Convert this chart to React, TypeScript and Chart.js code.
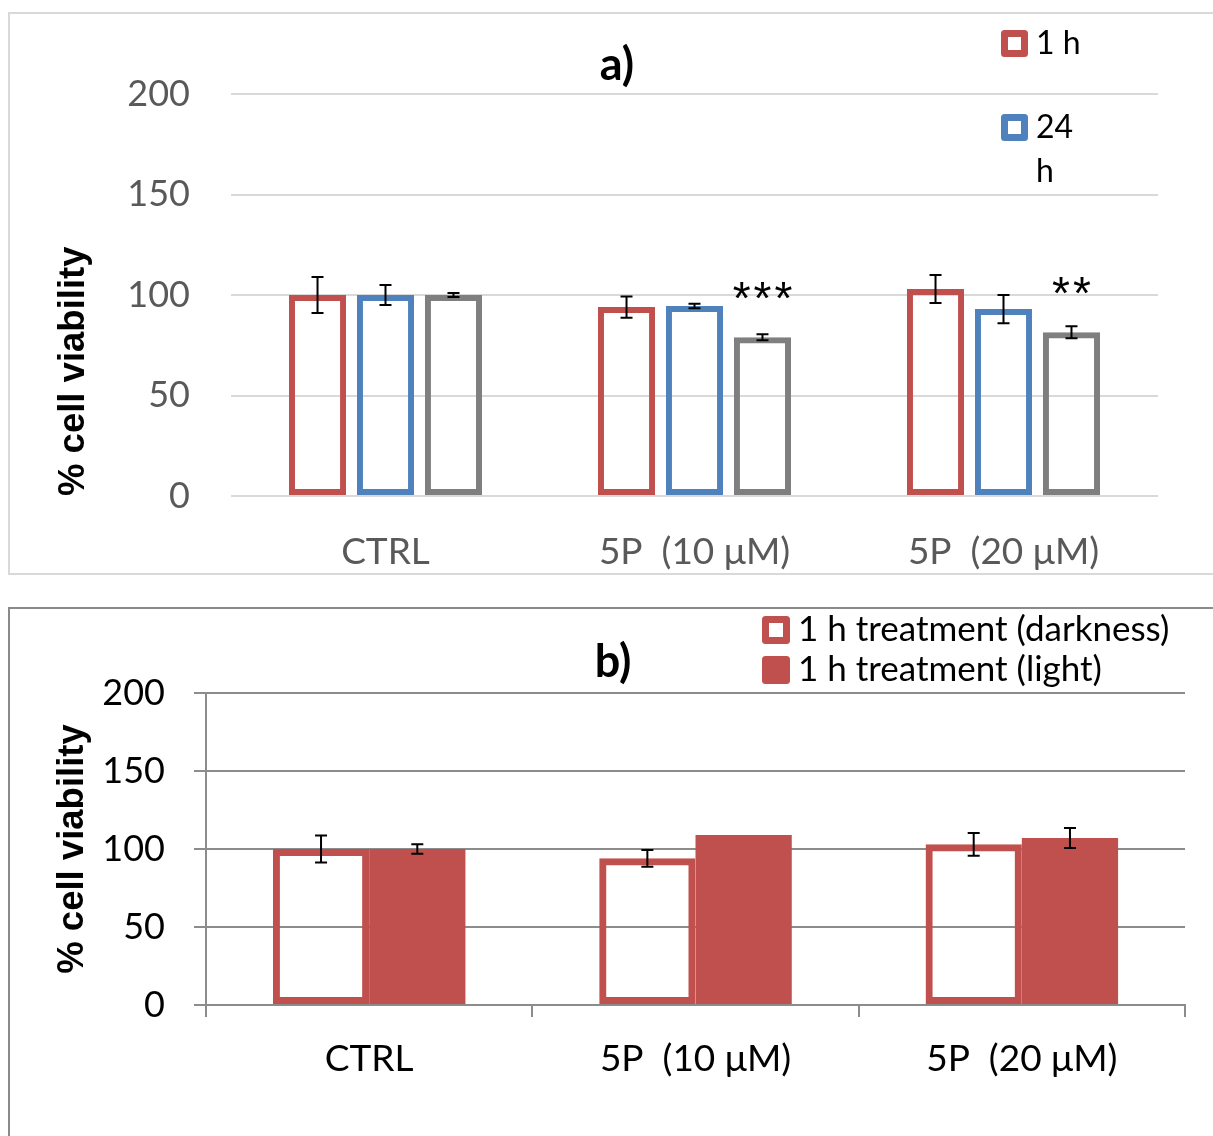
import React, { useEffect, useRef } from 'react';
import { Chart, registerables } from 'chart.js';

Chart.register(...registerables);

// ---------- data ----------
const categories = ['CTRL', '5P  (10 μM)', '5P  (20 μM)'];
const yTicks = [0, 50, 100, 150, 200];

// panel a
const legendA = ['1 h', '24 h', ''];
const valuesA1h = [100, 94, 103];
const errorsA1h = [9, 5.3, 7];
const valuesA24h = [100, 94.5, 93];
const errorsA24h = [5, 1.1, 7];
const valuesA3 = [100, 79, 81.5];
const errorsA3 = [1, 1.5, 3];
const signifA3 = ['', '***', '**'];

// panel b
const legendB = ['1 h treatment (darkness)', '1 h treatment (light)'];
const valuesBDark = [100, 94, 103];
const errorsBDark = [8.7, 5.4, 7.3];
const valuesBLight = [100, 109, 107];
const errorsBLight = [3, 0, 6.4];

const RED = '#C0504D';
const BLUE = '#4F81BD';
const GRAY = '#7F7F7F';
const NONE = 'rgba(0,0,0,0)';
const FONT = 'Lato, "Open Sans", sans-serif';
const BOLDFONT = '"Liberation Sans", Arial, sans-serif';

// ---------- plugins ----------
const errorBarPlugin = {
  id: 'errorBars',
  afterDatasetsDraw(chart: any) {
    const ctx = chart.ctx;
    const y = chart.scales.y;
    chart.data.datasets.forEach((ds: any, i: number) => {
      const errs = ds.errors;
      if (!errs) return;
      const meta = chart.getDatasetMeta(i);
      meta.data.forEach((el: any, j: number) => {
        const e = errs[j];
        if (!e) return;
        const v = ds.data[j];
        const x = el.x;
        const y1 = y.getPixelForValue(v + e);
        const y2 = y.getPixelForValue(v - e);
        ctx.save();
        ctx.strokeStyle = '#000';
        ctx.lineWidth = 2;
        ctx.beginPath();
        ctx.moveTo(x, y1);
        ctx.lineTo(x, y2);
        ctx.moveTo(x - 6, y1);
        ctx.lineTo(x + 6, y1);
        ctx.moveTo(x - 6, y2);
        ctx.lineTo(x + 6, y2);
        ctx.stroke();
        ctx.restore();
      });
    });
  },
};

const signifPlugin = {
  id: 'signif',
  afterDatasetsDraw(chart: any) {
    const ctx = chart.ctx;
    const y = chart.scales.y;
    chart.data.datasets.forEach((ds: any, i: number) => {
      const marks = ds.signif;
      if (!marks) return;
      const meta = chart.getDatasetMeta(i);
      meta.data.forEach((el: any, j: number) => {
        const m = marks[j];
        if (!m) return;
        ctx.save();
        ctx.fillStyle = '#000';
        ctx.font = `46px ${BOLDFONT}`;
        (ctx as any).letterSpacing = '3px';
        ctx.textAlign = 'center';
        ctx.textBaseline = 'alphabetic';
        ctx.fillText(m, el.x + 1.5, y.getPixelForValue(ds.data[j]) - 23);
        ctx.restore();
      });
    });
  },
};

function drawBox(ctx: CanvasRenderingContext2D, x: number, y: number, s: number, color: string, filled: boolean) {
  ctx.save();
  ctx.lineJoin = 'round';
  ctx.strokeStyle = color;
  ctx.lineWidth = 7;
  ctx.fillStyle = filled ? color : '#fff';
  ctx.fillRect(x + 3.5, y + 3.5, s - 7, s - 7);
  ctx.strokeRect(x + 3.5, y + 3.5, s - 7, s - 7);
  ctx.restore();
}

const panelDecorPlugin = {
  id: 'panelDecor',
  afterDraw(chart: any) {
    const o = chart.options.plugins.panelDecor;
    if (!o) return;
    const ctx = chart.ctx;
    ctx.save();
    ctx.fillStyle = '#000';
    ctx.font = `bold 45px ${FONT}`;
    ctx.textAlign = 'center';
    ctx.textBaseline = 'middle';
    ctx.fillText(o.title, o.titleX, o.titleY);
    ctx.restore();

    // legend
    const items = chart.data.datasets.filter((d: any) => d.label);
    ctx.save();
    ctx.font = `${o.legendFont}px ${FONT}`;
    ctx.fillStyle = '#000';
    ctx.textAlign = 'left';
    ctx.textBaseline = 'middle';
    items.forEach((d: any, k: number) => {
      const by = o.legendY + k * o.legendStep;
      drawBox(ctx, o.legendX, by, o.boxSize, d.legendColor, d.legendFilled);
      const words = String(d.label).split(' ');
      const lines: string[] = [];
      let cur = '';
      words.forEach((w: string) => {
        const t = cur ? cur + ' ' + w : w;
        if (cur && ctx.measureText(t).width > o.legendMaxW) {
          lines.push(cur);
          cur = w;
        } else cur = t;
      });
      if (cur) lines.push(cur);
      lines.forEach((ln, li) => {
        ctx.fillText(ln, o.legendX + o.boxSize + 8, by + o.boxSize / 2 + li * o.lineStep);
      });
    });
    ctx.restore();
  },
};

// ---------- component ----------
export default function App() {
  const refA = useRef<HTMLCanvasElement>(null);
  const refB = useRef<HTMLCanvasElement>(null);

  useEffect(() => {
    const chartA = new Chart(refA.current as HTMLCanvasElement, {
      type: 'bar',
      data: {
        labels: categories,
        datasets: [
          { label: legendA[0], data: valuesA1h, errors: errorsA1h, legendColor: RED, legendFilled: false,
            backgroundColor: NONE, borderColor: RED, borderWidth: 6, borderSkipped: false } as any,
          { label: legendA[1], data: valuesA24h, errors: errorsA24h, legendColor: BLUE, legendFilled: false,
            backgroundColor: NONE, borderColor: BLUE, borderWidth: 6, borderSkipped: false } as any,
          { label: legendA[2], data: valuesA3, errors: errorsA3, signif: signifA3,
            backgroundColor: NONE, borderColor: GRAY, borderWidth: 6, borderSkipped: false } as any,
        ],
      },
      options: {
        responsive: false,
        animation: false,
        layout: { padding: { top: 80, right: 55, bottom: 0, left: 0 } },
        datasets: { bar: { categoryPercentage: 0.66, barPercentage: 0.84 } },
        plugins: {
          legend: { display: false },
          tooltip: { enabled: false },
          panelDecor: {
            title: 'a)', titleX: 607, titleY: 51,
            legendX: 991, legendY: 16, legendStep: 84, boxSize: 27,
            legendFont: 32, legendMaxW: 52, lineStep: 44,
          },
        } as any,
        scales: {
          x: {
            grid: { display: false },
            border: { display: false },
            ticks: { color: '#595959', font: { family: FONT, size: 37 }, padding: 26 },
            afterFit: (s: any) => { s.height = 77; },
          },
          y: {
            min: 0,
            max: 200,
            afterBuildTicks: (s: any) => { s.ticks = yTicks.map((v) => ({ value: v })); },
            grid: { color: '#d9d9d9', lineWidth: 2, drawTicks: false },
            border: { display: false },
            ticks: { color: '#595959', font: { family: FONT, size: 36 }, padding: 41 },
            title: {
              display: true, text: '% cell viability', align: 'start', color: '#000',
              font: { family: BOLDFONT, size: 36.5, weight: 'bold' }, padding: { top: 42, bottom: 0 },
            },
            afterFit: (s: any) => { s.width = 221; },
          },
        },
      },
      plugins: [errorBarPlugin, signifPlugin, panelDecorPlugin],
    });

    const chartB = new Chart(refB.current as HTMLCanvasElement, {
      type: 'bar',
      data: {
        labels: categories,
        datasets: [
          { label: legendB[0], data: valuesBDark, errors: errorsBDark, legendColor: RED, legendFilled: false,
            backgroundColor: NONE, borderColor: RED, borderWidth: 7, borderSkipped: false } as any,
          { label: legendB[1], data: valuesBLight, errors: errorsBLight, legendColor: RED, legendFilled: true,
            backgroundColor: RED, borderColor: RED, borderWidth: 0 } as any,
        ],
      },
      options: {
        responsive: false,
        animation: false,
        layout: { padding: { top: 84, right: 28, bottom: 0, left: 0 } },
        datasets: { bar: { categoryPercentage: 0.59, barPercentage: 1.0 } },
        plugins: {
          legend: { display: false },
          tooltip: { enabled: false },
          panelDecor: {
            title: 'b)', titleX: 603, titleY: 53,
            legendX: 752, legendY: 7, legendStep: 40, boxSize: 28,
            legendFont: 35, legendMaxW: 1000, lineStep: 40,
          },
        } as any,
        scales: {
          x: {
            grid: { display: true, drawOnChartArea: false, drawTicks: true, tickLength: 12, color: '#8c8c8c', lineWidth: 2 },
            border: { display: true, color: '#8c8c8c', width: 2 },
            ticks: { color: '#000', font: { family: FONT, size: 37 }, padding: 20 },
            afterFit: (s: any) => { s.height = 131; },
          },
          y: {
            min: 0,
            max: 200,
            afterBuildTicks: (s: any) => { s.ticks = yTicks.map((v) => ({ value: v })); },
            grid: { color: '#8c8c8c', lineWidth: 2, drawTicks: true, tickLength: 12 },
            border: { display: true, color: '#8c8c8c', width: 2 },
            ticks: { color: '#000', font: { family: FONT, size: 36 }, padding: 29 },
            title: {
              display: true, text: '% cell viability', align: 'center', color: '#000',
              font: { family: BOLDFONT, size: 36.5, weight: 'bold' }, padding: { top: 41, bottom: 0 },
            },
            afterFit: (s: any) => { s.width = 196; },
          },
        },
      },
      plugins: [errorBarPlugin, panelDecorPlugin],
    });

    return () => {
      chartA.destroy();
      chartB.destroy();
    };
  }, []);

  return (
    <div>
      <div
        style={{
          position: 'absolute', left: 8, top: 12, width: 1205, height: 563, boxSizing: 'border-box',
          borderTop: '2px solid #d9d9d9', borderLeft: '2px solid #d9d9d9', borderBottom: '2px solid #d9d9d9',
        }}
      >
        <canvas ref={refA} width={1203} height={559} style={{ display: 'block' }} />
      </div>
      <div
        style={{
          position: 'absolute', left: 8, top: 607, width: 1205, height: 529, boxSizing: 'border-box',
          borderTop: '2px solid #8a8a8a', borderLeft: '2px solid #8a8a8a',
        }}
      >
        <canvas ref={refB} width={1203} height={527} style={{ display: 'block' }} />
      </div>
    </div>
  );
}
